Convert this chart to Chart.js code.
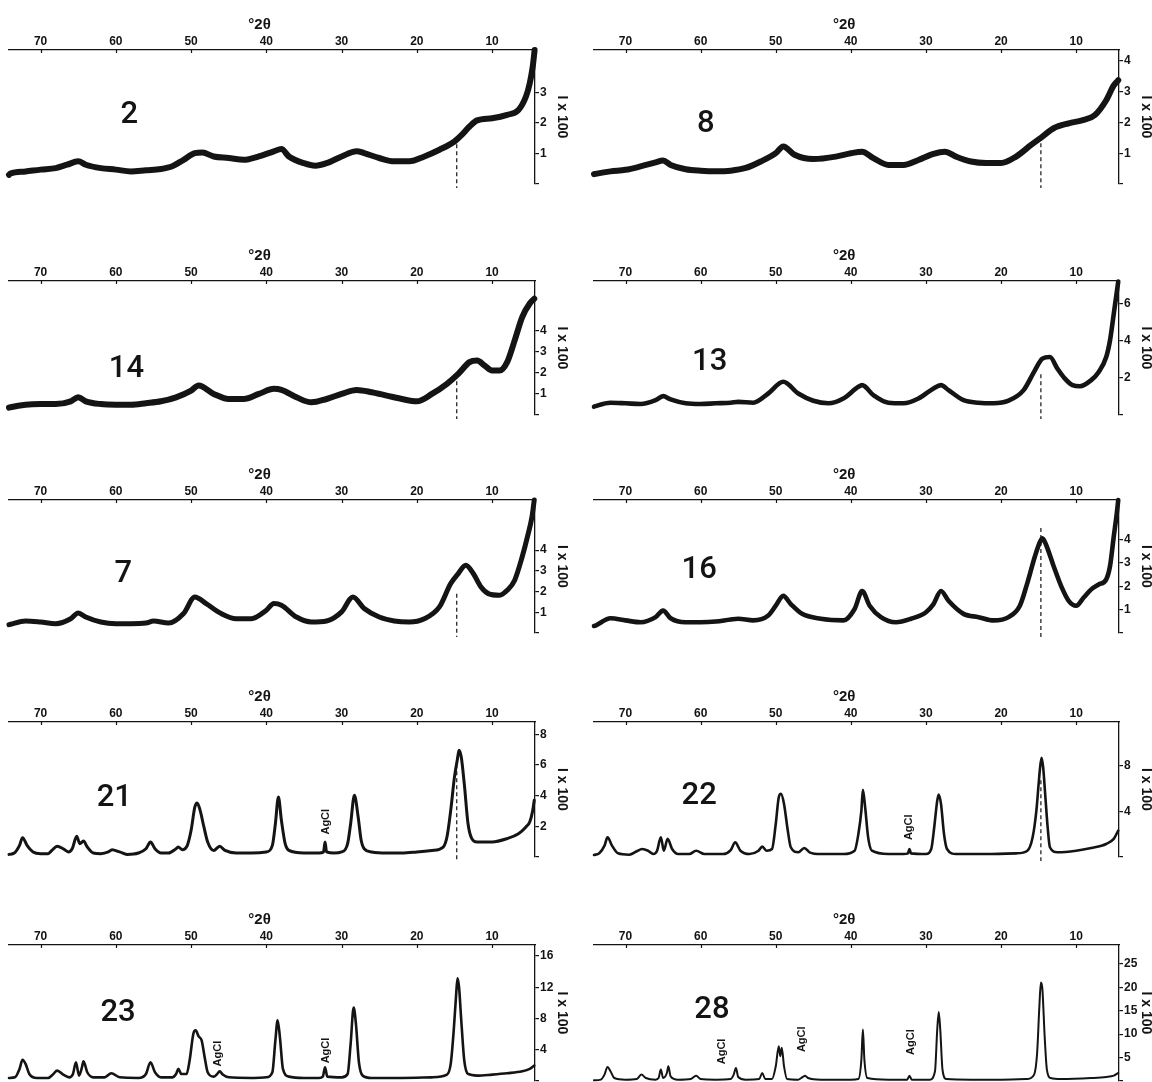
<!DOCTYPE html>
<html><head><meta charset="utf-8">
<script src="https://cdn.jsdelivr.net/npm/chart.js@4.4.0/dist/chart.umd.min.js"></script>
<style>
html,body{margin:0;padding:0;background:#fff;width:1152px;height:1082px;overflow:hidden;position:relative;}
canvas{position:absolute;}
</style></head><body>
<script>
// ---- data (°2θ, intensity I x 100) ----
const xTicks = [70, 60, 50, 40, 30, 20, 10];

const s2 = [[74.2,0.30],[74,0.34],[72,0.41],[70,0.47],[68,0.52],[66.5,0.63],[65,0.74],[64,0.63],[62,0.52],[60,0.47],[58,0.41],[56,0.45],[54,0.49],[52.5,0.58],[51,0.79],[49.5,1.01],[48.5,1.03],[47,0.90],[45,0.85],[43,0.79],[41,0.90],[39,1.07],[38,1.14],[37,0.90],[35,0.68],[33.5,0.60],[32,0.68],[30,0.90],[28,1.07],[27,1.01],[25,0.85],[23,0.74],[21,0.74],[19,0.90],[17,1.12],[15,1.39],[14,1.61],[13,1.88],[12,2.08],[10,2.15],[8,2.26],[6.5,2.42],[5.5,2.86],[5,3.29],[4.6,3.84],[4.35,4.38]];
const s8 = [[74.2,0.32],[74,0.33],[72,0.41],[70,0.46],[68,0.57],[66,0.70],[65,0.76],[64,0.62],[62,0.48],[60,0.43],[58,0.41],[56,0.43],[54,0.52],[52,0.73],[50,1.00],[49,1.22],[47.5,0.95],[45,0.81],[42,0.89],[40,1.00],[38.5,1.05],[37,0.84],[35,0.62],[33,0.62],[31,0.78],[29,0.98],[27.5,1.05],[26,0.89],[24,0.73],[22,0.68],[20,0.68],[18,0.89],[16,1.27],[14.5,1.54],[13,1.81],[11,1.97],[9,2.08],[7.5,2.24],[6,2.72],[5,3.20],[4.4,3.37]];
const s14 = [[74.2,0.35],[74,0.37],[72,0.49],[70,0.52],[68,0.52],[66,0.65],[65,0.84],[64,0.65],[62,0.52],[60,0.49],[58,0.49],[56,0.56],[54,0.65],[52,0.84],[50,1.16],[49,1.40],[47,1.00],[45,0.76],[43,0.76],[41,1.00],[39,1.24],[38,1.19],[36,0.84],[34,0.60],[32,0.76],[30,1.00],[28,1.19],[26,1.08],[24,0.92],[22,0.76],[20,0.65],[18,1.00],[16,1.48],[14.5,1.95],[13,2.51],[12,2.59],[11,2.35],[10,2.11],[9,2.11],[8,2.51],[7,3.54],[6,4.65],[5,5.29],[4.4,5.52]];
const s13 = [[74.2,0.45],[74,0.48],[72,0.66],[70,0.63],[68,0.59],[66,0.80],[65,1.02],[64,0.84],[62,0.63],[60,0.59],[58,0.63],[56,0.66],[55,0.71],[53,0.66],[51,1.16],[49,1.79],[47,1.16],[45,0.77],[43,0.63],[41,0.89],[39,1.52],[38.5,1.61],[37,1.07],[35,0.66],[33,0.63],[31,0.89],[29,1.43],[28,1.61],[27,1.34],[25,0.80],[23,0.66],[21,0.63],[19,0.77],[17,1.34],[15.5,2.41],[14.5,3.04],[13.5,3.13],[12.5,2.50],[11.5,1.96],[10.5,1.61],[9.5,1.55],[8,1.88],[7,2.32],[6,3.13],[5.5,4.02],[5,5.45],[4.4,7.2]];
const s7 = [[74.2,0.40],[74,0.42],[72,0.58],[70,0.53],[68,0.45],[66,0.69],[65,0.97],[64,0.77],[62,0.53],[60,0.45],[58,0.45],[56,0.48],[55,0.58],[53,0.48],[51,0.94],[49.5,1.74],[48,1.42],[46,0.94],[44,0.69],[42,0.69],[40,1.10],[39,1.42],[38,1.34],[36,0.77],[34,0.53],[32,0.58],[30,1.02],[28.5,1.74],[27,1.18],[25,0.77],[23,0.58],[21,0.53],[19,0.69],[17,1.26],[15.5,2.39],[14.5,2.87],[13.5,3.27],[12.5,2.87],[11.5,2.23],[10.5,1.90],[9,1.82],[8,2.06],[7,2.55],[6,3.68],[5.3,4.65],[4.7,5.61],[4.4,6.42]];
const s16 = [[74.2,0.30],[74,0.32],[72,0.63],[70,0.54],[68,0.46],[66,0.68],[65,0.96],[64,0.63],[62,0.46],[60,0.46],[58,0.49],[56,0.58],[55,0.61],[53,0.54],[51,0.75],[50,1.17],[49,1.59],[48,1.24],[46.5,0.82],[44,0.61],[41,0.54],[39.5,1.03],[38.5,1.80],[37.5,1.17],[36,0.68],[34,0.46],[32,0.61],[30,0.89],[29,1.24],[28,1.80],[27,1.38],[25,0.82],[23,0.68],[21,0.54],[19,0.68],[17.5,1.17],[16.5,2.15],[15.5,3.28],[14.8,3.92],[14.5,4.06],[14,3.77],[13,2.86],[12,2.01],[11,1.38],[10,1.17],[9,1.52],[8,1.87],[7,2.08],[6,2.30],[5.5,2.86],[5,4.13],[4.6,5.11],[4.4,5.70]];
const s21 = [[74.2,0.17],[73.5,0.26],[72.8,0.76],[72.4,1.26],[71.8,0.76],[71,0.33],[70,0.22],[69,0.22],[68.5,0.43],[67.8,0.70],[67,0.54],[66.3,0.33],[65.8,0.54],[65.2,1.35],[64.8,0.87],[64.3,1.04],[63.8,0.65],[63,0.26],[62,0.22],[61,0.33],[60.5,0.48],[59.5,0.33],[58.5,0.17],[57,0.26],[56,0.54],[55.4,0.98],[54.8,0.54],[54,0.26],[53,0.26],[52,0.54],[51.7,0.65],[51.2,0.48],[50.5,0.76],[50,1.74],[49.5,3.26],[49.2,3.52],[48.8,3.04],[48.3,1.96],[47.8,0.98],[47,0.43],[46.2,0.70],[45.5,0.43],[44,0.26],[42,0.26],[40,0.33],[39.2,0.76],[38.8,2.17],[38.4,3.91],[38.0,2.39],[37.5,0.87],[37,0.43],[35,0.26],[33,0.26],[32.4,0.33],[32.2,0.98],[32.0,0.33],[31,0.26],[30,0.33],[29.2,0.87],[28.8,2.17],[28.3,4.02],[27.8,2.61],[27.4,1.09],[27,0.54],[26,0.33],[24,0.26],[22,0.26],[20,0.33],[18,0.43],[16.5,0.65],[16,1.30],[15.5,3.04],[15,5.22],[14.6,6.41],[14.4,6.96],[14.1,6.52],[13.7,4.78],[13.2,2.17],[12.7,1.20],[12,0.98],[10,0.98],[8,1.20],[6.5,1.52],[5.5,1.96],[5,2.28],[4.6,3.04],[4.4,3.70]];
const s22 = [[74.2,0.18],[73.5,0.32],[72.8,0.99],[72.4,1.72],[71.8,0.99],[71,0.32],[69.5,0.20],[68.5,0.50],[67.8,0.70],[67,0.55],[66.3,0.26],[65.8,0.55],[65.3,1.72],[64.9,0.55],[64.4,1.58],[63.8,0.70],[63,0.26],[61.5,0.26],[60.6,0.55],[59.5,0.26],[57,0.26],[56,0.61],[55.4,1.28],[54.7,0.55],[53.5,0.26],[52.3,0.55],[51.8,0.91],[51.2,0.55],[50.5,0.70],[50,2.89],[49.6,5.23],[49.3,5.52],[48.9,4.64],[48.4,2.31],[48,0.85],[47,0.41],[46.2,0.79],[45.5,0.41],[44,0.26],[41,0.26],[39.5,0.55],[39,2.01],[38.6,4.06],[38.4,5.87],[38.1,4.35],[37.7,1.72],[37.2,0.55],[35,0.26],[33,0.26],[32.4,0.32],[32.2,0.70],[32.0,0.32],[30,0.26],[29.3,0.70],[28.9,2.60],[28.5,4.93],[28.3,5.46],[28.0,4.64],[27.6,2.01],[27.2,0.70],[26,0.26],[22,0.26],[18,0.32],[16.5,0.55],[15.8,1.72],[15.3,4.06],[15,6.39],[14.8,7.85],[14.6,8.67],[14.4,7.85],[14.1,5.23],[13.8,2.60],[13.5,0.85],[12.5,0.41],[10,0.55],[8,0.79],[6,1.14],[5,1.58],[4.4,2.31]];
const s23 = [[74.2,0.39],[73.4,0.47],[72.8,1.55],[72.4,2.70],[72,2.19],[71.5,0.90],[70.5,0.39],[69,0.39],[68.3,0.90],[67.8,1.33],[67,0.82],[66.2,0.47],[65.7,0.90],[65.3,2.40],[64.9,0.69],[64.5,1.76],[64.3,2.53],[63.8,1.12],[63,0.47],[61.5,0.47],[60.6,0.99],[59.5,0.47],[57,0.39],[56,0.90],[55.4,2.40],[54.8,1.12],[54,0.47],[52.5,0.47],[52,0.90],[51.7,1.55],[51.3,0.90],[50.6,0.90],[50.2,2.62],[49.7,6.05],[49.4,6.48],[49.0,5.71],[48.6,5.19],[48.2,3.05],[47.8,1.12],[47,0.56],[46.6,0.82],[46.2,1.24],[45.8,0.82],[45,0.47],[42,0.39],[40,0.47],[39.2,1.12],[38.8,5.19],[38.5,7.77],[38.2,5.62],[37.8,1.55],[37,0.56],[35,0.39],[33,0.39],[32.5,0.56],[32.2,1.76],[31.9,0.56],[30,0.47],[29.2,0.90],[28.8,4.76],[28.4,9.40],[28.1,7.34],[27.7,2.40],[27.2,0.69],[26,0.39],[22,0.39],[18,0.47],[16,0.82],[15.5,2.19],[15.1,6.48],[14.8,10.77],[14.6,13.13],[14.4,12.06],[14.1,7.77],[13.7,2.62],[13.2,0.90],[12,0.69],[10,0.82],[8,0.99],[6,1.24],[5,1.55],[4.4,1.97]];
const s28 = [[74.2,0.14],[73.3,0.29],[72.8,1.36],[72.4,3.00],[72,2.07],[71.5,0.64],[70,0.29],[68.5,0.43],[67.9,1.36],[67.3,0.64],[66,0.29],[65.6,0.64],[65.3,2.43],[65.0,0.64],[64.5,1.71],[64.3,3.14],[64.0,1.00],[63,0.29],[61.3,0.43],[60.6,1.14],[60,0.43],[58,0.29],[56,0.43],[55.6,1.36],[55.3,2.79],[55,0.86],[54,0.29],[52.2,0.43],[51.8,1.71],[51.4,0.43],[50.5,0.43],[50,3.14],[49.6,7.43],[49.4,5.29],[49.2,7.07],[48.9,3.14],[48.5,0.43],[47,0.29],[46.4,0.86],[46.1,1.14],[45.7,0.64],[44,0.29],[40,0.29],[39,0.43],[38.6,4.57],[38.4,11.0],[38.2,4.57],[37.8,0.64],[35,0.29],[32.5,0.29],[32.2,1.14],[31.9,0.29],[29.5,0.29],[28.8,2.07],[28.5,11.0],[28.3,14.7],[28.1,11.0],[27.8,2.43],[27.3,0.43],[24,0.29],[20,0.29],[16.5,0.43],[15.6,1.36],[15.2,6.00],[14.9,16.0],[14.7,21.0],[14.5,19.6],[14.2,9.57],[13.9,2.43],[13.4,0.64],[12,0.43],[8,0.64],[6,0.86],[5,1.14],[4.4,1.71]];

const yt2 = [1, 2, 3];
const yt8 = [1, 2, 3, 4];
const yt14 = [1, 2, 3, 4];
const yt13 = [2, 4, 6];
const yt7 = [1, 2, 3, 4];
const yt16 = [1, 2, 3, 4];
const yt21 = [2, 4, 6, 8];
const yt22 = [4, 8];
const yt23 = [4, 8, 12, 16];
const yt28 = [5, 10, 15, 20, 25];

const yMaxes = {'2':4.38,'8':4.35,'14':6.36,'13':7.23,'7':6.42,'16':5.70,'21':8.8,'22':11.8,'23':17.4,'28':29};
// dashed reference line at 14.7 °2θ: top value per panel
const dashTop = {'2':1.3,'8':1.32,'14':1.6,'13':2.2,'7':1.9,'16':4.5,'21':6.5,'22':6.7};
const dashAt = 14.7;
// AgCl annotations [°2θ, I]
const agcl = {'21':[[32.1,2.3]],'22':[[32.3,2.6]],'23':[[46.4,3.5],[32.1,3.9]],'28':[[57.2,6.3],[46.5,8.9],[32.0,8.3]]};
// sample-number label anchor [°2θ, I]
const nameAt = {'2':[58.2,2.25],'8':[59.3,1.95],'14':[58.6,2.15],'13':[58.8,2.85],'7':[59.0,2.85],'16':[60.2,2.7],'21':[60.2,3.8],'22':[60.2,5.3],'23':[59.7,8.7],'28':[58.5,15.1]};

// ---- layout / style ----
const INK = '#141414';
const FONT = '"Liberation Sans", Arial, sans-serif';
const rowAxisY = [50, 281, 500, 722, 945];
const rowZeroY = [184, 415, 633, 857, 1081];
const panels = [
  {name:'2',  s:s2,  yt:yt2,  row:0, col:0, lw:6},
  {name:'8',  s:s8,  yt:yt8,  row:0, col:1, lw:6},
  {name:'14', s:s14, yt:yt14, row:1, col:0, lw:6},
  {name:'13', s:s13, yt:yt13, row:1, col:1, lw:4.6},
  {name:'7',  s:s7,  yt:yt7,  row:2, col:0, lw:5},
  {name:'16', s:s16, yt:yt16, row:2, col:1, lw:4.6},
  {name:'21', s:s21, yt:yt21, row:3, col:0, lw:3},
  {name:'22', s:s22, yt:yt22, row:3, col:1, lw:2.6},
  {name:'23', s:s23, yt:yt23, row:4, col:0, lw:2.6},
  {name:'28', s:s28, yt:yt28, row:4, col:1, lw:2}
];

const annotPlugin = {
  id: 'annot',
  afterDatasetsDraw(chart, args, o) {
    const {ctx, chartArea, scales} = chart;
    const xs = scales.x, ys = scales.y;
    ctx.save();
    ctx.fillStyle = INK;
    ctx.strokeStyle = INK;
    // inward major tick marks on the top axis
    ctx.lineWidth = 1.2;
    ctx.beginPath();
    for (const v of xTicks) {
      const px = Math.round(xs.getPixelForValue(v)) + 0.5;
      ctx.moveTo(px, chartArea.top);
      ctx.lineTo(px, chartArea.top + 3);
    }
    ctx.stroke();
    ctx.textAlign = 'center';
    ctx.textBaseline = 'middle';
    ctx.font = 'bold 15px ' + FONT;
    ctx.fillText('\u00B02\u03B8', xs.getPixelForValue(40.9), chartArea.top - 25);
    ctx.font = '500 31px Roboto, ' + FONT;
    ctx.fillText(o.name, xs.getPixelForValue(o.nameAt[0]), ys.getPixelForValue(o.nameAt[1]));
    ctx.font = 'bold 11px ' + FONT;
    for (const a of o.agcl) {
      ctx.save();
      ctx.translate(xs.getPixelForValue(a[0]), ys.getPixelForValue(a[1]));
      ctx.rotate(-Math.PI / 2);
      ctx.fillText('AgCl', 0, 0);
      ctx.restore();
    }
    ctx.restore();
  }
};

panels.forEach((p, i) => {
  const cv = document.createElement('canvas');
  const top = rowAxisY[p.row] - 50;
  const h = rowZeroY[p.row] - rowAxisY[p.row] + 60;
  const left = p.col === 0 ? 0 : 576;
  const w = p.col === 0 ? 576 : 590;
  cv.width = w; cv.height = h;
  cv.style.left = left + 'px'; cv.style.top = top + 'px';
  cv.style.width = w + 'px'; cv.style.height = h + 'px';
  document.body.appendChild(cv);

  const datasets = [{
    data: p.s.map(d => ({x: d[0], y: d[1]})),
    borderColor: INK, borderWidth: p.lw, pointRadius: 0,
    cubicInterpolationMode: 'monotone', clip: false,
    borderJoinStyle: 'round', borderCapStyle: 'round'
  }];
  if (dashTop[p.name] !== undefined) {
    datasets.push({
      data: [{x: dashAt, y: dashTop[p.name]}, {x: dashAt, y: -0.03 * yMaxes[p.name]}],
      borderColor: INK, borderWidth: 1.2, borderDash: [4, 3], pointRadius: 0, clip: false
    });
  }

  new Chart(cv, {
    type: 'line',
    data: {datasets},
    plugins: [annotPlugin],
    options: {
      responsive: false, animation: false, events: [],
      devicePixelRatio: 1,
      layout: {padding: {top: 5, bottom: 10, left: p.col === 0 ? 9 : 18, right: p.col === 0 ? 6 : 12}},
      plugins: {
        legend: {display: false}, tooltip: {enabled: false},
        annot: {name: p.name, nameAt: nameAt[p.name], agcl: agcl[p.name] || []}
      },
      scales: {
        x: {
          type: 'linear', position: 'top', reverse: true, min: 4.3, max: 74.2,
          afterFit: s => { s.height = 45; },
          afterBuildTicks: s => { s.ticks = xTicks.map(v => ({value: v})); },
          grid: {display: true, drawOnChartArea: false, drawTicks: false, color: INK},
          border: {display: true, color: INK, width: 1.3},
          ticks: {padding: 1, color: INK, autoSkip: false, maxRotation: 0,
                  font: {family: FONT, size: 12, weight: 'bold'},
                  callback: v => String(v)}
        },
        y: {
          type: 'linear', position: 'right', min: 0, max: yMaxes[p.name],
          afterFit: s => { s.width = 35; },
          afterBuildTicks: s => { s.ticks = [0].concat(p.yt).map(v => ({value: v})); },
          grid: {display: true, drawOnChartArea: false, drawTicks: true, tickLength: 4, color: INK, lineWidth: 1.2},
          border: {display: true, color: INK, width: 1.3},
          ticks: {padding: 1, color: INK, autoSkip: false,
                  font: {family: FONT, size: 12, weight: 'bold'},
                  callback: v => (v === 0 ? '' : String(v))},
          title: {display: true, text: 'I x 100', color: INK, padding: 0,
                  font: {family: FONT, size: 14, weight: 'bold'}}
        }
      }
    }
  });
});
</script>
</body></html>
